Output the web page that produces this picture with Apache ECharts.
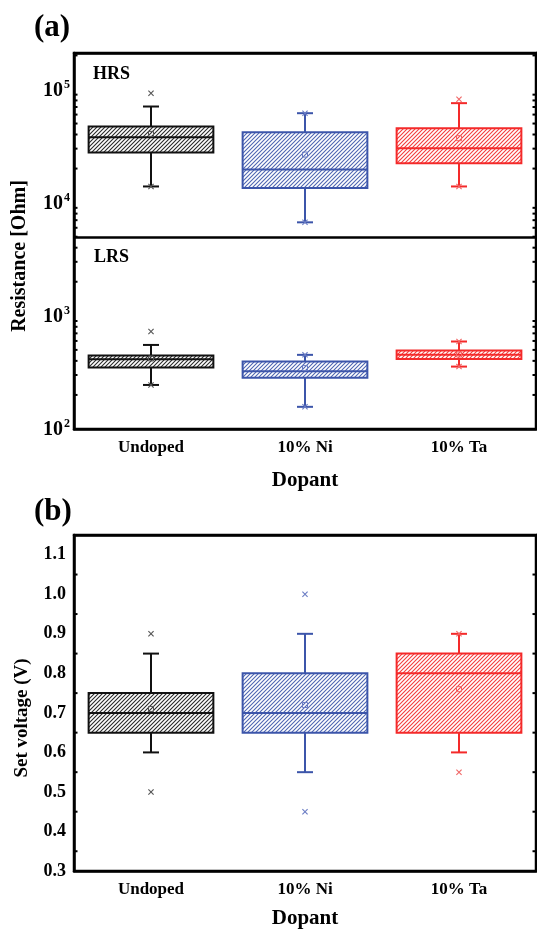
<!DOCTYPE html>
<html><head><meta charset="utf-8">
<script src="https://cdn.jsdelivr.net/npm/echarts@6/dist/echarts.min.js"></script>
<style>html,body{margin:0;padding:0;background:#fff}#c{width:537px;height:930px}</style>
</head><body><div id="c"></div>
<script>
const categories = ['Undoped', '10% Ni', '10% Ta'];

// Panel (a): Resistance [Ohm] - HRS
const hrsLow    = [13900, 6700, 13900];
const hrsQ1     = [27700, 13500, 22300];
const hrsMedian = [37800, 19600, 30200];
const hrsQ3     = [47000, 41900, 45500];
const hrsHigh   = [70700, 61700, 75700];
const hrsMean   = [40500, 26600, 37100];
const hrsMarks  = [[92700, 13900], [61700, 6700], [82000, 13900]];

// Panel (a): LRS
const lrsLow    = [245, 157, 356];
const lrsQ1     = [349, 284, 416];
const lrsMedian = [414, 324, 452];
const lrsQ3     = [446, 395, 493];
const lrsHigh   = [553, 452, 593];
const lrsMean   = [420, 345, 455];
const lrsMarks  = [[726, 245], [452, 157], [593, 356]];

// Panel (b): Set voltage (V)
const vLow    = [0.60, 0.55, 0.60];
const vQ1     = [0.65, 0.65, 0.65];
const vMedian = [0.70, 0.70, 0.80];
const vQ3     = [0.75, 0.80, 0.85];
const vHigh   = [0.85, 0.90, 0.90];
const vMean   = [0.71, 0.72, 0.76];
const vMarks  = [[0.90, 0.50], [1.00, 0.45], [0.90, 0.55]];

// axis minor tick values
const logMinorTicks = [200,300,400,500,600,700,800,900,2000,3000,4000,5000,6000,7000,8000,9000,20000,30000,40000,50000,60000,70000,80000,90000,200000];
const voltMinorTicks = [0.35,0.45,0.55,0.65,0.75,0.85,0.95,1.05];
const stateDivider = 4900;

const lineColors  = ['#111111', '#3c55aa', '#f42a2a'];
const hatchColors = ['#2a2a2a', '#4f66b2', '#f33d3d'];
const markColors  = ['#555555', '#6a7cc4', '#f06666'];
const FONT = "'Liberation Serif','Times New Roman',serif";

function hatch(color) {
  const c = document.createElement('canvas'); c.width = 4; c.height = 4;
  const g = c.getContext('2d');
  g.strokeStyle = color; g.lineWidth = 1.1;
  g.beginPath();
  g.moveTo(-1, 5); g.lineTo(5, -1);
  g.moveTo(-1, 1); g.lineTo(1, -1);
  g.moveTo(3, 5); g.lineTo(5, 3);
  g.stroke();
  return { image: c, repeat: 'repeat' };
}
const patterns = hatchColors.map(hatch);

function boxRows(low, q1, med, q3, high, mean) {
  return categories.map((c, i) => [i, low[i], q1[i], med[i], q3[i], high[i], mean[i]]);
}
function markRows(marks) {
  const out = [];
  marks.forEach((arr, i) => arr.forEach(v => out.push([i, v])));
  return out;
}

function renderBox(params, api) {
  const i = api.value(0);
  const cs = params.coordSys;
  const band = cs.width / categories.length;
  const bw = band * 0.81, cap = 16;
  const x = api.coord([i, api.value(3)])[0];
  const yl = api.coord([i, api.value(1)])[1];
  const y1 = api.coord([i, api.value(2)])[1];
  const ym = api.coord([i, api.value(3)])[1];
  const y3 = api.coord([i, api.value(4)])[1];
  const yh = api.coord([i, api.value(5)])[1];
  const ymean = api.coord([i, api.value(6)])[1];
  const c = lineColors[i];
  const ls = { stroke: c, lineWidth: 2 };
  return { type: 'group', children: [
    { type: 'rect', shape: { x: x - bw / 2, y: y3, width: bw, height: y1 - y3 }, style: { fill: patterns[i], stroke: c, lineWidth: 2 } },
    { type: 'line', shape: { x1: x - bw / 2, y1: ym, x2: x + bw / 2, y2: ym }, style: ls },
    { type: 'line', shape: { x1: x, y1: y3, x2: x, y2: yh }, style: ls },
    { type: 'line', shape: { x1: x - cap / 2, y1: yh, x2: x + cap / 2, y2: yh }, style: ls },
    { type: 'line', shape: { x1: x, y1: y1, x2: x, y2: yl }, style: ls },
    { type: 'line', shape: { x1: x - cap / 2, y1: yl, x2: x + cap / 2, y2: yl }, style: ls },
    { type: 'rect', shape: { x: x - 2.5, y: ymean - 2.5, width: 5, height: 5 }, style: { fill: 'none', stroke: markColors[i], lineWidth: 1 } }
  ]};
}
function renderMark(params, api) {
  const i = api.value(0);
  const p = api.coord([i, api.value(1)]);
  const s = 2.6, c = markColors[i];
  return { type: 'group', children: [
    { type: 'line', shape: { x1: p[0] - s, y1: p[1] - s, x2: p[0] + s, y2: p[1] + s }, style: { stroke: c, lineWidth: 1.1 } },
    { type: 'line', shape: { x1: p[0] - s, y1: p[1] + s, x2: p[0] + s, y2: p[1] - s }, style: { stroke: c, lineWidth: 1.1 } }
  ]};
}
function renderMinor(params, api) {
  const cs = params.coordSys;
  const y = api.coord([0, api.value(1)])[1];
  const L = 3.5;
  return { type: 'group', children: [
    { type: 'line', shape: { x1: cs.x, y1: y, x2: cs.x + L, y2: y }, style: { stroke: '#000', lineWidth: 2 } },
    { type: 'line', shape: { x1: cs.x + cs.width - L, y1: y, x2: cs.x + cs.width, y2: y }, style: { stroke: '#000', lineWidth: 2 } }
  ]};
}

const axisLine = { show: true, onZero: false, lineStyle: { color: '#000', width: 2.5 } };
const catLabel = { color: '#000', fontFamily: FONT, fontWeight: 'bold', fontSize: 17, margin: 10 };
const nameStyle = { color: '#000', fontFamily: FONT, fontWeight: 'bold', fontSize: 21 };

function xAxes(gi, gap) {
  return [
    { gridIndex: gi, type: 'category', data: categories, position: 'bottom', axisLine,
      axisTick: { inside: true, alignWithLabel: true, length: 7, lineStyle: { color: '#000', width: 2 } },
      axisLabel: catLabel, name: 'Dopant', nameLocation: 'middle', nameGap: gap, nameTextStyle: nameStyle },
    { gridIndex: gi, type: 'category', data: categories, position: 'top', axisLine,
      axisTick: { inside: true, alignWithLabel: true, length: 7, lineStyle: { color: '#000', width: 2 } },
      axisLabel: { show: false } }
  ];
}

const logFmt = v => {
  const e = Math.log10(v);
  if (Math.abs(e - Math.round(e)) < 1e-6) return '{b|10}{s|' + Math.round(e) + '}';
  return '';
};
const logRich = {
  b: { fontFamily: FONT, fontWeight: 'bold', fontSize: 20, color: '#000', lineHeight: 22, verticalAlign: 'bottom' },
  s: { fontFamily: FONT, fontWeight: 'bold', fontSize: 12, color: '#000', lineHeight: 22, verticalAlign: 'top', padding: [0, 0, 10, 1] }
};
const voltFmt = v => (Math.abs(v * 10 - Math.round(v * 10)) < 1e-6 ? v.toFixed(1) : '');

const chart = echarts.init(document.getElementById('c'));
chart.setOption({
  animation: false,
  backgroundColor: '#fff',
  grid: [
    { left: 74, top: 53, width: 462, height: 376, show: true, borderColor: '#000', borderWidth: 2.5, backgroundColor: 'transparent' },
    { left: 74, top: 535, width: 462, height: 341.5, show: true, borderColor: '#000', borderWidth: 2.5, backgroundColor: 'transparent' }
  ],
  xAxis: [...xAxes(0, 41), ...xAxes(1, 37)],
  yAxis: [
    { gridIndex: 0, type: 'log', logBase: 10, min: 100, max: 210000, position: 'left', axisLine,
      axisTick: { inside: true, length: 6, lineStyle: { color: '#000', width: 2 } },
      axisLabel: { formatter: logFmt, rich: logRich, margin: 4 }, splitLine: { show: false } },
    { gridIndex: 0, type: 'log', logBase: 10, min: 100, max: 210000, position: 'right', axisLine,
      axisTick: { inside: true, length: 6, lineStyle: { color: '#000', width: 2 } },
      axisLabel: { show: false }, splitLine: { show: false } },
    { gridIndex: 1, type: 'value', min: 0.3, max: 1.15, interval: 0.1, position: 'left', axisLine,
      axisTick: { inside: true, length: 6, lineStyle: { color: '#000', width: 2 } },
      axisLabel: { formatter: voltFmt, color: '#000', fontFamily: FONT, fontWeight: 'bold', fontSize: 18, margin: 8 },
      splitLine: { show: false } },
    { gridIndex: 1, type: 'value', min: 0.3, max: 1.15, interval: 0.1, position: 'right', axisLine,
      axisTick: { inside: true, length: 6, lineStyle: { color: '#000', width: 2 } },
      axisLabel: { show: false }, splitLine: { show: false } }
  ],
  series: [
    { type: 'custom', name: 'HRS', xAxisIndex: 0, yAxisIndex: 0, renderItem: renderBox,
      data: boxRows(hrsLow, hrsQ1, hrsMedian, hrsQ3, hrsHigh, hrsMean),
      markLine: { silent: true, symbol: 'none', label: { show: false }, lineStyle: { color: '#000', width: 2.5, type: 'solid' }, data: [{ yAxis: stateDivider }] } },
    { type: 'custom', name: 'LRS', xAxisIndex: 0, yAxisIndex: 0, renderItem: renderBox,
      data: boxRows(lrsLow, lrsQ1, lrsMedian, lrsQ3, lrsHigh, lrsMean) },
    { type: 'custom', xAxisIndex: 0, yAxisIndex: 0, renderItem: renderMark, data: markRows(hrsMarks).concat(markRows(lrsMarks)) },
    { type: 'custom', xAxisIndex: 0, yAxisIndex: 0, renderItem: renderMinor, data: logMinorTicks.map(v => [0, v]) },
    { type: 'custom', name: 'Set voltage', xAxisIndex: 2, yAxisIndex: 2, renderItem: renderBox,
      data: boxRows(vLow, vQ1, vMedian, vQ3, vHigh, vMean) },
    { type: 'custom', xAxisIndex: 2, yAxisIndex: 2, renderItem: renderMark, data: markRows(vMarks) },
    { type: 'custom', xAxisIndex: 2, yAxisIndex: 2, renderItem: renderMinor, data: voltMinorTicks.map(v => [0, v]) }
  ],
  graphic: [
    { type: 'text', left: 34, top: 12, style: { text: '(a)', font: "bold 31px " + FONT, fill: '#000' } },
    { type: 'text', left: 34, top: 496, style: { text: '(b)', font: "bold 31px " + FONT, fill: '#000' } },
    { type: 'text', x: 93, y: 83, style: { text: 'HRS', font: "bold 18px " + FONT, fill: '#000', textVerticalAlign: 'bottom' } },
    { type: 'text', x: 94, y: 266, style: { text: 'LRS', font: "bold 18px " + FONT, fill: '#000', textVerticalAlign: 'bottom' } },
    { type: 'text', x: 20, y: 256, rotation: Math.PI / 2, style: { text: 'Resistance [Ohm]', font: "bold 20px " + FONT, fill: '#000', textAlign: 'center', textVerticalAlign: 'middle' } },
    { type: 'text', x: 22, y: 718, rotation: Math.PI / 2, style: { text: 'Set voltage (V)', font: "bold 19px " + FONT, fill: '#000', textAlign: 'center', textVerticalAlign: 'middle' } }
  ]
});
</script>
</body></html>
